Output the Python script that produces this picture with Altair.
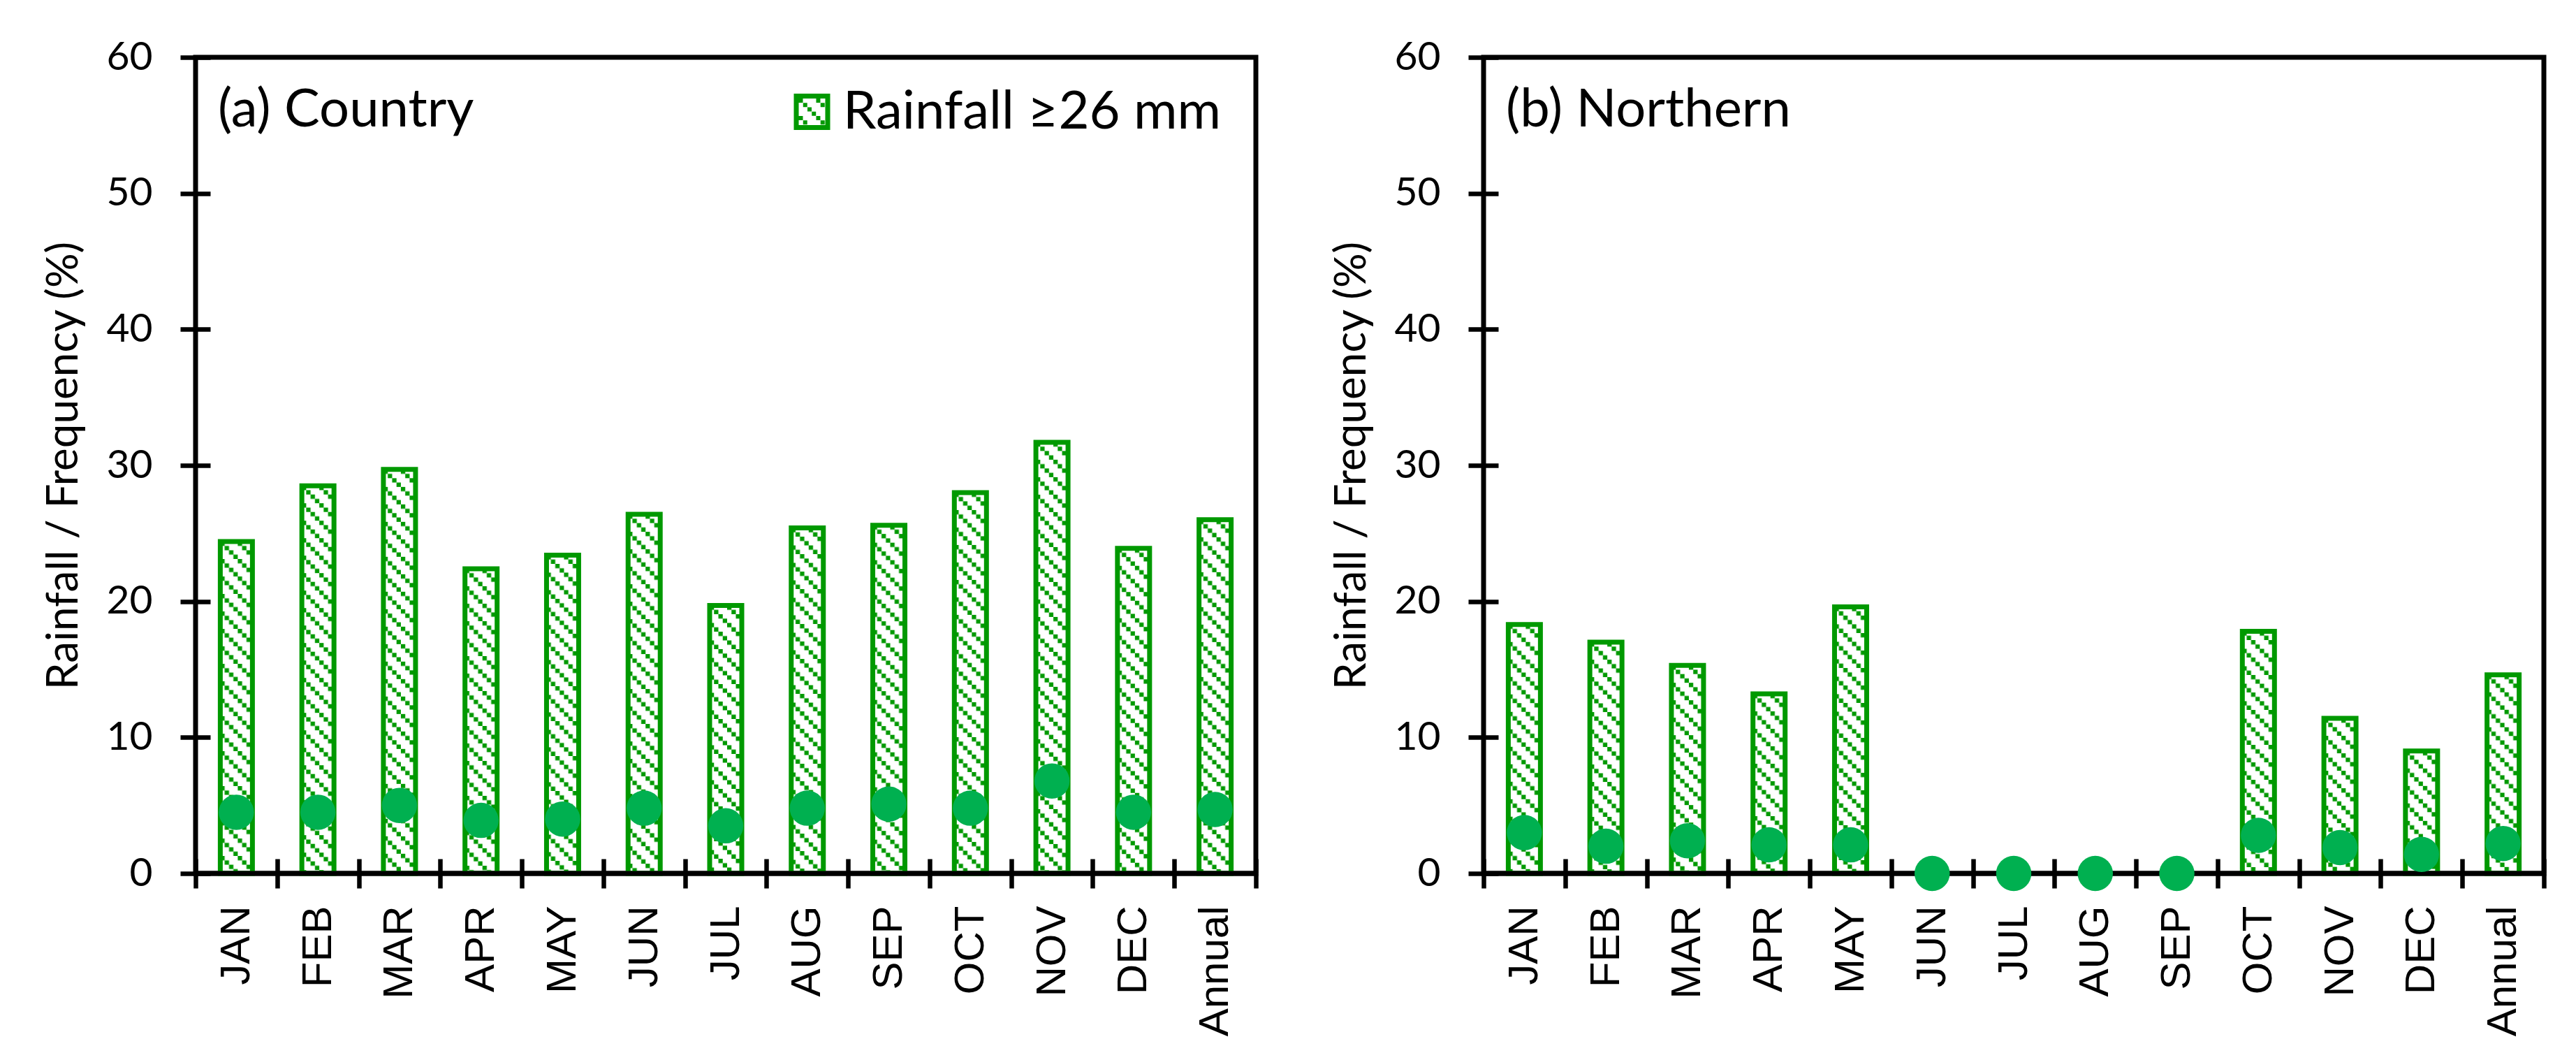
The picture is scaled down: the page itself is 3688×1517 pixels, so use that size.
import base64
import altair as alt
import pandas as pd

# ---------------- data ----------------
months = ["JAN", "FEB", "MAR", "APR", "MAY", "JUN", "JUL", "AUG", "SEP", "OCT", "NOV", "DEC", "Annual"]

country_rain = [24.4, 28.5, 29.7, 22.4, 23.4, 26.4, 19.7, 25.4, 25.6, 28.0, 31.7, 23.9, 26.0]
country_freq = [4.5, 4.5, 5.0, 3.9, 4.0, 4.8, 3.5, 4.8, 5.1, 4.8, 6.8, 4.5, 4.7]

north_rain = [18.3, 17.0, 15.3, 13.2, 19.6, 0, 0, 0, 0, 17.8, 11.4, 9.0, 14.6]
north_freq = [3.0, 2.0, 2.4, 2.1, 2.1, 0, 0, 0, 0, 2.8, 1.9, 1.4, 2.2]

panel_labels = ["(a) Country", "(b) Northern"]
legend_label = ["Rainfall \u226526 mm"]
y_ticks = [0, 10, 20, 30, 40, 50, 60]
y_title = "Rainfall / Frequency (%)"

# ---------------- styling ----------------
W, H = 1518, 1168
GREEN = "#009900"
DOT = "#00B050"
BAR_W = 46

# hatch pattern (dotted diagonal lines) as a self-sized SVG image
sq = "".join(
    f'<rect x="{k*6.25}" y="{k*6.25}" width="6.25" height="6.25" fill="{GREEN}"/>' for k in range(4)
)
hatch_svg = (
    '<svg xmlns="http://www.w3.org/2000/svg">'
    '<defs><pattern id="h" patternUnits="userSpaceOnUse" width="25" height="25">'
    + sq
    + '</pattern></defs><rect x="0" y="0" width="100%" height="100%" fill="url(#h)"/></svg>'
)
HATCH = "data:image/svg+xml;base64," + base64.b64encode(hatch_svg.encode()).decode()

# legend swatch: frame + hatch squares, in [-1, 1] units
g = [-0.73 + 0.24 * k for k in range(6)]
cells = [(v, v) for v in g] + [(g[4], g[0]), (g[5], g[1]), (g[0], g[4]), (g[1], g[5])]
swatch = "M-1,-1H1V1H-1Z M-0.73,-0.73V0.73H0.73V-0.73Z " + " ".join(
    f"M{x:.2f},{y:.2f}h0.23v0.23h-0.23Z" for x, y in cells
)

xscale = alt.Scale(type="band", domain=months, paddingInner=0, paddingOuter=0)
yscale = alt.Scale(domain=[0, 60], nice=False, zero=True)

main_x_axis = alt.Axis(
    title=None, domain=False, grid=False, ticks=True, tickSize=21, tickWidth=6.5,
    tickColor="black", tickBand="extent", labelAngle=270, labelFont="Liberation Sans",
    labelFontSize=60, labelColor="black", labelPadding=25, labelOverlap=False, labelLimit=400,
)
main_y_axis = alt.Axis(
    values=y_ticks, domain=False, grid=False, tickSize=22, tickWidth=6.5, tickColor="black",
    labelFont="Lato", labelFontSize=57, labelColor="black", labelPadding=40,
    title=y_title, titleFont="Lato", titleFontSize=62, titleFontWeight="normal",
    titleColor="black", titleAngle=270, titleX=-170, titleY=H / 2,
    titleAlign="center", titleBaseline="alphabetic", titleLimit=2000,
)
inner_x_axis = alt.Axis(
    orient="top", offset=-H, title=None, domain=False, grid=False, labels=False,
    tickSize=21, tickWidth=6.5, tickColor="black", tickBand="extent",
)
inner_y_axis = alt.Axis(
    orient="right", offset=-W, values=y_ticks, title=None, domain=False, grid=False,
    labels=False, tickSize=21, tickWidth=6.5, tickColor="black",
)


def panel(rain, freq, label, with_legend):
    df = pd.DataFrame({"cat": months, "rain": rain, "freq": freq})
    base = alt.Chart(df)
    bars_src = base.transform_filter("datum.rain > 0")

    hatch = bars_src.mark_image(url=HATCH, aspect=False, width=BAR_W).encode(
        x=alt.X("cat:N", sort=months, scale=xscale, axis=main_x_axis),
        y=alt.Y("rain:Q", scale=yscale, axis=main_y_axis),
        y2=alt.datum(0),
    )
    outline = bars_src.mark_bar(
        fillOpacity=0, stroke=GREEN, strokeWidth=7, width=BAR_W
    ).encode(
        x=alt.X("cat:N", sort=months, scale=xscale, axis=None),
        y=alt.Y("rain:Q", scale=yscale, axis=None),
    )
    baseline = (
        alt.Chart(pd.DataFrame({"z": [0]}))
        .mark_rule(color="black", strokeWidth=7)
        .encode(y=alt.Y("z:Q", scale=yscale, axis=None))
    )
    dots = base.mark_circle(size=2550, color=DOT, opacity=1).encode(
        x=alt.X("cat:N", sort=months, scale=xscale, axis=inner_x_axis),
        y=alt.Y("freq:Q", scale=yscale, axis=inner_y_axis),
    )
    lab = (
        alt.Chart(pd.DataFrame({"t": [label]}))
        .mark_text(align="left", baseline="alphabetic", font="Lato", fontSize=76, color="black")
        .encode(text="t:N", x=alt.value(32), y=alt.value(99))
    )
    layers = [hatch, outline, baseline, dots, lab]
    if with_legend:
        sym = (
            alt.Chart(pd.DataFrame({"t": legend_label}))
            .mark_point(shape=swatch, filled=True, fill=GREEN, strokeWidth=0, size=2704, opacity=1)
            .encode(x=alt.value(882.5), y=alt.value(78))
        )
        txt = (
            alt.Chart(pd.DataFrame({"t": legend_label}))
            .mark_text(align="left", baseline="alphabetic", font="Lato", fontSize=76, color="black")
            .encode(text="t:N", x=alt.value(927), y=alt.value(102))
        )
        layers += [sym, txt]
    return (
        alt.layer(*layers)
        .resolve_axis(x="independent", y="independent")
        .properties(width=W, height=H)
    )


left = panel(country_rain, country_freq, panel_labels[0], True)
right = panel(north_rain, north_freq, panel_labels[1], False)

chart = (
    alt.hconcat(left, right, spacing=95)
    .properties(padding={"left": 48, "top": 41, "right": 10, "bottom": 10}, background="white")
    .configure_view(stroke="black", strokeWidth=7)
)

chart.save("out.html", embed_options={"renderer": "svg", "actions": False})
